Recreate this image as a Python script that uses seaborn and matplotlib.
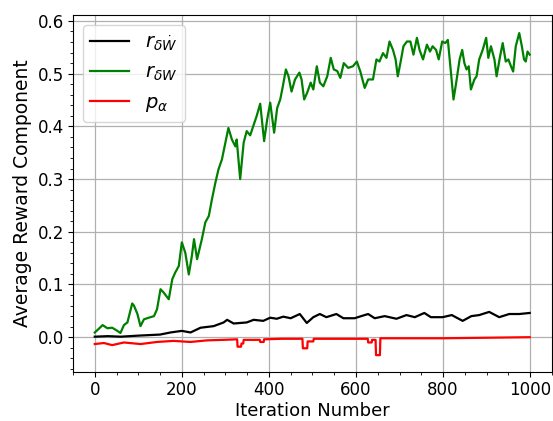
import matplotlib
matplotlib.use("Agg")
import matplotlib.pyplot as plt
import seaborn as sns

# Reward components averaged over training iterations
w_iter = [0, 8, 18, 29, 40, 52, 59, 67, 75, 86, 90, 98, 105, 113, 124, 136, 143, 151, 158, 170,
          178, 185, 193, 200, 208, 216, 223, 228, 235, 246, 254, 262, 269, 277, 284, 292, 300, 307,
          315, 323, 326, 334, 342, 349, 357, 364, 372, 380, 389, 396, 403, 412, 419, 426, 432, 439,
          445, 452, 460, 470, 475, 481, 488, 496, 502, 510, 517, 525, 534, 542, 549, 557, 564, 572,
          582, 593, 602, 610, 620, 628, 639, 647, 654, 662, 670, 677, 685, 691, 696, 702, 709, 717,
          725, 732, 740, 746, 754, 763, 770, 776, 784, 790, 798, 805, 811, 816, 824, 830, 838, 844,
          849, 854, 859, 864, 872, 877, 883, 891, 899, 904, 910, 918, 923, 931, 937, 944, 950, 956,
          961, 967, 975, 981, 986, 990, 994, 999]
r_dw = [0.009, 0.015, 0.023, 0.017, 0.018, 0.012, 0.008, 0.023, 0.028, 0.064, 0.060, 0.044, 0.021,
        0.034, 0.037, 0.040, 0.053, 0.091, 0.085, 0.072, 0.110, 0.123, 0.135, 0.180, 0.160, 0.119,
        0.154, 0.186, 0.148, 0.186, 0.218, 0.230, 0.261, 0.293, 0.318, 0.337, 0.369, 0.397, 0.375,
        0.362, 0.375, 0.300, 0.369, 0.391, 0.383, 0.400, 0.420, 0.443, 0.372, 0.413, 0.445, 0.388,
        0.435, 0.451, 0.476, 0.508, 0.495, 0.466, 0.489, 0.502, 0.489, 0.451, 0.464, 0.483, 0.470,
        0.514, 0.483, 0.476, 0.495, 0.530, 0.508, 0.505, 0.492, 0.520, 0.511, 0.514, 0.523, 0.504,
        0.473, 0.489, 0.489, 0.527, 0.523, 0.539, 0.530, 0.561, 0.545, 0.527, 0.495, 0.520, 0.552,
        0.561, 0.561, 0.536, 0.568, 0.545, 0.527, 0.555, 0.542, 0.552, 0.545, 0.527, 0.561, 0.558,
        0.564, 0.520, 0.451, 0.482, 0.527, 0.545, 0.520, 0.508, 0.514, 0.470, 0.489, 0.495, 0.527,
        0.545, 0.568, 0.530, 0.552, 0.527, 0.495, 0.533, 0.558, 0.523, 0.527, 0.514, 0.504, 0.552,
        0.577, 0.552, 0.527, 0.523, 0.542, 0.536]

wdot_iter = [0, 30, 60, 100, 150, 174, 200, 220, 243, 273, 296, 304, 319, 349, 365, 387, 403, 418,
             433, 450, 471, 487, 502, 517, 532, 555, 571, 597, 612, 628, 643, 666, 693, 716, 735,
             757, 772, 799, 820, 845, 865, 883, 906, 929, 952, 975, 999]
r_dwdot = [0.001, 0.002, 0.001, 0.003, 0.005, 0.009, 0.012, 0.009, 0.018, 0.021, 0.028, 0.033,
           0.026, 0.028, 0.033, 0.031, 0.037, 0.035, 0.039, 0.036, 0.044, 0.027, 0.038, 0.044,
           0.038, 0.044, 0.036, 0.036, 0.040, 0.044, 0.036, 0.040, 0.035, 0.042, 0.038, 0.046,
           0.038, 0.038, 0.042, 0.031, 0.040, 0.042, 0.048, 0.038, 0.044, 0.044, 0.046]

pa_iter = [0, 21, 40, 67, 105, 143, 181, 220, 258, 296, 327, 328, 336, 337, 341, 342, 379, 380,
           388, 389, 430, 477, 478, 488, 489, 502, 503, 560, 600, 627, 628, 636, 637, 645, 646,
           655, 656, 700, 800, 900, 999]
p_alpha = [-0.013, -0.011, -0.015, -0.010, -0.013, -0.009, -0.007, -0.009, -0.006, -0.005, -0.004,
           -0.018, -0.018, -0.012, -0.012, -0.005, -0.005, -0.009, -0.009, -0.004, -0.003, -0.003,
           -0.021, -0.021, -0.008, -0.008, -0.003, -0.003, -0.003, -0.003, -0.010, -0.010, -0.005,
           -0.005, -0.034, -0.034, -0.002, -0.002, -0.002, -0.001, 0.000]

fig = plt.figure(figsize=(5.53, 4.21), dpi=100)
ax = fig.add_axes([0.132, 0.1164, 0.866, 0.8476])

sns.lineplot(x=wdot_iter, y=r_dwdot, color="black", linewidth=1.6,
             label=r"$r_{\delta \dot{W}}$", ax=ax)
sns.lineplot(x=w_iter, y=r_dw, color="green", linewidth=1.6,
             label=r"$r_{\delta W}$", ax=ax)
sns.lineplot(x=pa_iter, y=p_alpha, color="red", linewidth=1.6,
             label=r"$p_{\alpha}$", ax=ax)

ax.set_xlim(-50, 1050)
ax.set_ylim(-0.066, 0.611)
ax.set_xticks([0, 200, 400, 600, 800, 1000])
ax.set_yticks([0.0, 0.1, 0.2, 0.3, 0.4, 0.5, 0.6])
ax.minorticks_on()
ax.grid(True, which="major", color="#b0b0b0", linewidth=0.9)
ax.tick_params(axis="both", which="major", labelsize=12, pad=3)
ax.set_xlabel("Iteration Number", fontsize=13, labelpad=2)
ax.set_ylabel("Average Reward Component", fontsize=13.5)
ax.legend(loc="upper left", fontsize=14)

fig.savefig("out.png", dpi=100)
